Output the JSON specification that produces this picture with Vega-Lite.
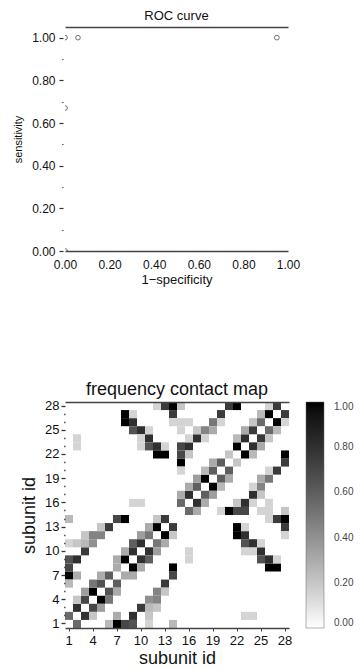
{
"$schema": "https://vega.github.io/schema/vega-lite/v6.json",
"background": "white",
"padding": {"left": 12, "top": 10, "right": 0, "bottom": 0},
"config": {"font": "Liberation Sans", "view": {"stroke": null}, "axis": {"grid": false, "labelColor": "#111", "titleColor": "#111", "titleFontWeight": "normal"}},
"datasets": {
"roc": [{"fpr":0,"tpr":0},{"fpr":0,"tpr":0.67},{"fpr":0,"tpr":1},{"fpr":0.058,"tpr":1},{"fpr":0.95,"tpr":1}],
"contact": [
{"row":1,"col":2,"freq":0.55},{"row":2,"col":1,"freq":0.55},
{"row":2,"col":3,"freq":0.8},{"row":3,"col":2,"freq":0.8},
{"row":3,"col":4,"freq":0.7},{"row":4,"col":3,"freq":0.7},
{"row":4,"col":5,"freq":1},{"row":5,"col":4,"freq":1},
{"row":5,"col":6,"freq":0.65},{"row":6,"col":5,"freq":0.65},
{"row":6,"col":7,"freq":0.6},{"row":7,"col":6,"freq":0.6},
{"row":1,"col":7,"freq":1},{"row":7,"col":1,"freq":1},
{"row":2,"col":4,"freq":0.2},{"row":4,"col":2,"freq":0.2},
{"row":3,"col":5,"freq":0.35},{"row":5,"col":3,"freq":0.35},
{"row":4,"col":6,"freq":0.5},{"row":6,"col":4,"freq":0.5},
{"row":5,"col":7,"freq":0.3},{"row":7,"col":5,"freq":0.3},
{"row":1,"col":6,"freq":0.25},{"row":6,"col":1,"freq":0.25},
{"row":2,"col":7,"freq":0.3},{"row":7,"col":2,"freq":0.3},
{"row":1,"col":8,"freq":0.7},{"row":8,"col":1,"freq":0.7},
{"row":1,"col":9,"freq":0.65},{"row":9,"col":1,"freq":0.65},
{"row":2,"col":9,"freq":0.8},{"row":9,"col":2,"freq":0.8},
{"row":3,"col":10,"freq":0.75},{"row":10,"col":3,"freq":0.75},
{"row":4,"col":11,"freq":0.4},{"row":11,"col":4,"freq":0.4},
{"row":4,"col":12,"freq":0.45},{"row":12,"col":4,"freq":0.45},
{"row":5,"col":12,"freq":0.45},{"row":12,"col":5,"freq":0.45},
{"row":6,"col":13,"freq":0.75},{"row":13,"col":6,"freq":0.75},
{"row":7,"col":14,"freq":0.7},{"row":14,"col":7,"freq":0.7},
{"row":1,"col":11,"freq":0.15},{"row":11,"col":1,"freq":0.15},
{"row":1,"col":14,"freq":0.25},{"row":14,"col":1,"freq":0.25},
{"row":2,"col":11,"freq":0.2},{"row":11,"col":2,"freq":0.2},
{"row":3,"col":11,"freq":0.25},{"row":11,"col":3,"freq":0.25},
{"row":3,"col":12,"freq":0.2},{"row":12,"col":3,"freq":0.2},
{"row":5,"col":13,"freq":0.2},{"row":13,"col":5,"freq":0.2},
{"row":7,"col":8,"freq":0.3},{"row":8,"col":7,"freq":0.3},
{"row":7,"col":9,"freq":0.3},{"row":9,"col":7,"freq":0.3},
{"row":8,"col":9,"freq":1},{"row":9,"col":8,"freq":1},
{"row":9,"col":10,"freq":0.8},{"row":10,"col":9,"freq":0.8},
{"row":10,"col":11,"freq":0.8},{"row":11,"col":10,"freq":0.8},
{"row":11,"col":12,"freq":0.5},{"row":12,"col":11,"freq":0.5},
{"row":12,"col":13,"freq":1},{"row":13,"col":12,"freq":1},
{"row":13,"col":14,"freq":0.75},{"row":14,"col":13,"freq":0.75},
{"row":8,"col":14,"freq":1},{"row":14,"col":8,"freq":1},
{"row":8,"col":10,"freq":0.3},{"row":10,"col":8,"freq":0.3},
{"row":9,"col":11,"freq":0.6},{"row":11,"col":9,"freq":0.6},
{"row":10,"col":12,"freq":0.35},{"row":12,"col":10,"freq":0.35},
{"row":11,"col":13,"freq":0.3},{"row":13,"col":11,"freq":0.3},
{"row":12,"col":14,"freq":0.2},{"row":14,"col":12,"freq":0.2},
{"row":2,"col":23,"freq":0.15},{"row":23,"col":2,"freq":0.15},
{"row":2,"col":24,"freq":0.15},{"row":24,"col":2,"freq":0.15},
{"row":9,"col":16,"freq":0.15},{"row":16,"col":9,"freq":0.15},
{"row":10,"col":16,"freq":0.15},{"row":16,"col":10,"freq":0.15},
{"row":8,"col":26,"freq":1},{"row":26,"col":8,"freq":1},
{"row":8,"col":27,"freq":1},{"row":27,"col":8,"freq":1},
{"row":9,"col":26,"freq":0.8},{"row":26,"col":9,"freq":0.8},
{"row":9,"col":25,"freq":0.65},{"row":25,"col":9,"freq":0.65},
{"row":9,"col":27,"freq":0.15},{"row":27,"col":9,"freq":0.15},
{"row":10,"col":25,"freq":0.8},{"row":25,"col":10,"freq":0.8},
{"row":10,"col":23,"freq":0.15},{"row":23,"col":10,"freq":0.15},
{"row":10,"col":24,"freq":0.15},{"row":24,"col":10,"freq":0.15},
{"row":11,"col":24,"freq":0.8},{"row":24,"col":11,"freq":0.8},
{"row":11,"col":23,"freq":0.65},{"row":23,"col":11,"freq":0.65},
{"row":11,"col":25,"freq":0.15},{"row":25,"col":11,"freq":0.15},
{"row":12,"col":23,"freq":0.8},{"row":23,"col":12,"freq":0.8},
{"row":12,"col":22,"freq":1},{"row":22,"col":12,"freq":1},
{"row":13,"col":22,"freq":1},{"row":22,"col":13,"freq":1},
{"row":13,"col":23,"freq":0.15},{"row":23,"col":13,"freq":0.15},
{"row":13,"col":28,"freq":0.75},{"row":28,"col":13,"freq":0.75},
{"row":14,"col":28,"freq":1},{"row":28,"col":14,"freq":1},
{"row":14,"col":27,"freq":0.75},{"row":27,"col":14,"freq":0.75},
{"row":14,"col":26,"freq":0.15},{"row":26,"col":14,"freq":0.15},
{"row":12,"col":28,"freq":0.15},{"row":28,"col":12,"freq":0.15},
{"row":15,"col":16,"freq":0.55},{"row":16,"col":15,"freq":0.55},
{"row":16,"col":17,"freq":0.8},{"row":17,"col":16,"freq":0.8},
{"row":17,"col":18,"freq":0.6},{"row":18,"col":17,"freq":0.6},
{"row":18,"col":19,"freq":1},{"row":19,"col":18,"freq":1},
{"row":19,"col":20,"freq":0.6},{"row":20,"col":19,"freq":0.6},
{"row":20,"col":21,"freq":0.6},{"row":21,"col":20,"freq":0.6},
{"row":15,"col":21,"freq":1},{"row":21,"col":15,"freq":1},
{"row":15,"col":17,"freq":0.3},{"row":17,"col":15,"freq":0.3},
{"row":16,"col":18,"freq":0.3},{"row":18,"col":16,"freq":0.3},
{"row":17,"col":19,"freq":0.35},{"row":19,"col":17,"freq":0.35},
{"row":18,"col":20,"freq":0.25},{"row":20,"col":18,"freq":0.25},
{"row":19,"col":21,"freq":0.3},{"row":21,"col":19,"freq":0.3},
{"row":15,"col":20,"freq":0.15},{"row":20,"col":15,"freq":0.15},
{"row":15,"col":22,"freq":0.7},{"row":22,"col":15,"freq":0.7},
{"row":15,"col":23,"freq":0.7},{"row":23,"col":15,"freq":0.7},
{"row":16,"col":23,"freq":0.8},{"row":23,"col":16,"freq":0.8},
{"row":17,"col":24,"freq":0.8},{"row":24,"col":17,"freq":0.8},
{"row":18,"col":25,"freq":0.45},{"row":25,"col":18,"freq":0.45},
{"row":19,"col":26,"freq":0.5},{"row":26,"col":19,"freq":0.5},
{"row":20,"col":27,"freq":0.75},{"row":27,"col":20,"freq":0.75},
{"row":21,"col":28,"freq":0.75},{"row":28,"col":21,"freq":0.75},
{"row":15,"col":28,"freq":0.2},{"row":28,"col":15,"freq":0.2},
{"row":15,"col":26,"freq":0.15},{"row":26,"col":15,"freq":0.15},
{"row":16,"col":22,"freq":0.2},{"row":22,"col":16,"freq":0.2},
{"row":16,"col":24,"freq":0.15},{"row":24,"col":16,"freq":0.15},
{"row":17,"col":25,"freq":0.2},{"row":25,"col":17,"freq":0.2},
{"row":18,"col":24,"freq":0.15},{"row":24,"col":18,"freq":0.15},
{"row":19,"col":25,"freq":0.3},{"row":25,"col":19,"freq":0.3},
{"row":20,"col":26,"freq":0.15},{"row":26,"col":20,"freq":0.15},
{"row":21,"col":22,"freq":0.2},{"row":22,"col":21,"freq":0.2},
{"row":15,"col":25,"freq":0.15},{"row":25,"col":15,"freq":0.15},
{"row":16,"col":26,"freq":0.15},{"row":26,"col":16,"freq":0.15},
{"row":22,"col":23,"freq":1},{"row":23,"col":22,"freq":1},
{"row":23,"col":24,"freq":0.8},{"row":24,"col":23,"freq":0.8},
{"row":24,"col":25,"freq":0.75},{"row":25,"col":24,"freq":0.75},
{"row":25,"col":26,"freq":0.55},{"row":26,"col":25,"freq":0.55},
{"row":26,"col":27,"freq":1},{"row":27,"col":26,"freq":1},
{"row":27,"col":28,"freq":0.75},{"row":28,"col":27,"freq":0.75},
{"row":22,"col":28,"freq":1},{"row":28,"col":22,"freq":1},
{"row":22,"col":24,"freq":0.25},{"row":24,"col":22,"freq":0.25},
{"row":23,"col":25,"freq":0.3},{"row":25,"col":23,"freq":0.3},
{"row":24,"col":26,"freq":0.2},{"row":26,"col":24,"freq":0.2},
{"row":25,"col":27,"freq":0.25},{"row":27,"col":25,"freq":0.25},
{"row":26,"col":28,"freq":0.15},{"row":28,"col":26,"freq":0.15}
]},
"bounds": "flush",
"spacing": 151,
"resolve": {"legend": {"color": "independent"}, "scale": {"color": "independent"}},
"vconcat": [
{
"width": 223, "height": 224,
"title": {"text": "ROC curve", "fontSize": 13, "fontWeight": "normal", "color": "#111", "offset": 4},
"data": {"name": "roc"},
"encoding": {
"y": {"field": "tpr", "type": "quantitative", "scale": {"domain": [0, 1.05], "nice": false, "zero": false},
"axis": {"title": "sensitivity", "titleFontSize": 11, "titlePadding": 8, "domain": false, "offset": 2,
"values": [0,0.1,0.2,0.3,0.4,0.5,0.6,0.7,0.8,0.9,1],
"labelExpr": "round(datum.value*10)%2==0 ? format(datum.value,'.2f') : ''",
"tickSize": {"condition": {"test": "round(datum.value*10)%2==0", "value": 4}, "value": 1.2},
"tickColor": "#333", "tickWidth": 1.2, "labelFontSize": 12, "labelPadding": 4}}
},
"layer": [
{"mark": {"type": "point", "shape": "circle", "filled": false, "clip": true, "size": 22, "strokeWidth": 1, "color": "#333"},
"encoding": {"x": {"field": "fpr", "type": "quantitative", "scale": {"domain": [0, 1], "nice": false, "zero": false},
"axis": {"title": "1\u2212specificity", "titleFontSize": 13, "titlePadding": 3, "values": [0,0.2,0.4,0.6,0.8,1], "format": ".2f",
"labelFontSize": 12, "ticks": false, "labelPadding": 8, "domainColor": "#444", "domainWidth": 1.5, "labelFlush": false}}}},
{"mark": {"type": "point", "opacity": 0},
"encoding": {"x": {"field": "fpr", "type": "quantitative",
"axis": {"orient": "top", "labels": false, "ticks": false, "title": null, "domainColor": "#444", "domainWidth": 1.5}}}}
],
"resolve": {"axis": {"x": "independent"}}
},
{
"width": 224, "height": 226,
"title": {"text": "frequency contact map", "fontSize": 18, "fontWeight": "normal", "color": "#111", "offset": 1},
"data": {"name": "contact"},
"encoding": {
"y": {"field": "row", "type": "ordinal",
"scale": {"domain": [28,27,26,25,24,23,22,21,20,19,18,17,16,15,14,13,12,11,10,9,8,7,6,5,4,3,2,1], "paddingInner": 0, "paddingOuter": 0},
"axis": {"title": "subunit id", "titleFontSize": 18, "titlePadding": 6, "domain": false, "labelAngle": 0,
"labelExpr": "(datum.value-1)%3==0 ? ''+datum.value : ''",
"tickSize": {"condition": {"test": "(datum.value-1)%3==0", "value": 4}, "value": 1.3},
"tickColor": "#333", "tickWidth": 1.3, "labelFontSize": 13, "labelPadding": 2}}
},
"layer": [
{"mark": {"type": "rect"},
"encoding": {
"x": {"field": "col", "type": "ordinal",
"scale": {"domain": [1,2,3,4,5,6,7,8,9,10,11,12,13,14,15,16,17,18,19,20,21,22,23,24,25,26,27,28], "paddingInner": 0, "paddingOuter": 0},
"axis": {"title": "subunit id", "titleFontSize": 18, "titlePadding": 2, "values": [1,4,7,10,13,16,19,22,25,28], "labelAngle": 0,
"labelFontSize": 13, "labelPadding": 3, "tickSize": 3, "tickColor": "#444", "domainColor": "#444", "domainWidth": 1.5}},
"color": {"field": "freq", "type": "quantitative", "scale": {"domain": [0, 1], "range": ["#ffffff", "#000000"]},
"legend": {"title": null, "gradientLength": 226, "gradientThickness": 18, "offset": 17, "padding": 0,
"values": [0,0.2,0.4,0.6,0.8,1], "format": ".2f", "labelFontSize": 10, "labelColor": "#444", "labelOffset": 10,
"gradientStrokeColor": "#666", "gradientStrokeWidth": 0.5}}
}},
{"mark": {"type": "rect", "opacity": 0},
"encoding": {"x": {"field": "col", "type": "ordinal",
"axis": {"orient": "top", "labels": false, "ticks": false, "title": null, "domainColor": "#444", "domainWidth": 1.5}}}}
],
"resolve": {"axis": {"x": "independent"}}
}
]
}
